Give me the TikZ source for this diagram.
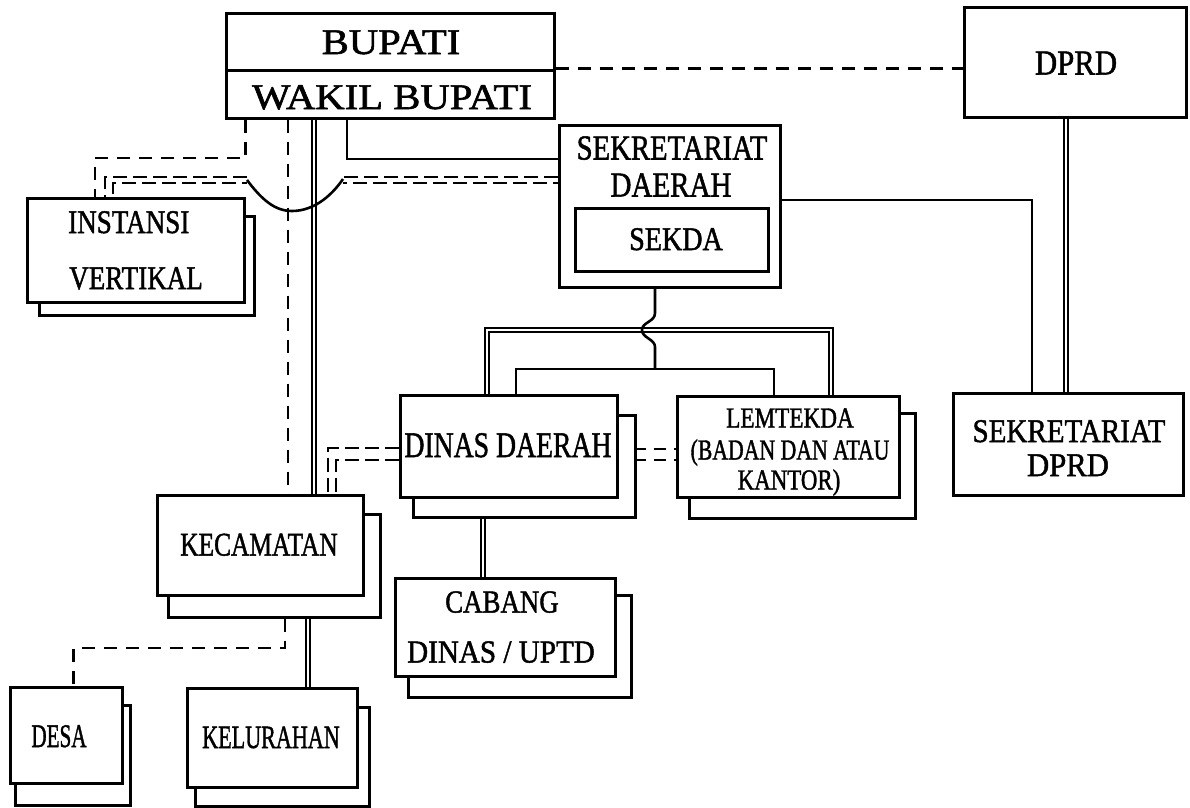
\documentclass[tikz,border=0pt]{standalone}
\usepackage{fontspec}
\setmainfont[BoldFont={Liberation Serif}, BoldFeatures={FakeBold=1.5}]{Liberation Serif}
\usepackage{graphicx}
\usetikzlibrary{backgrounds}
\newcommand{\lbl}[3]{\scalebox{#2}[1]{\fontsize{#1}{#1}\selectfont\bfseries #3}}
\begin{document}
\begin{tikzpicture}[x=1pt,y=-1pt,
  box/.style={draw, line width=3pt, fill=white, inner sep=0pt},
  shadowbox/.style={draw, line width=3pt, fill=white},
  txt/.style={inner sep=0pt, anchor=base},
  solidline/.style={line width=2.6pt},
  dashline/.style={line width=2.8pt, dash pattern=on 13pt off 9pt},
  dblline/.style={double, line width=2pt, double distance=2.2pt},
  ddline/.style={line width=2.4pt, dash pattern=on 14pt off 6pt}]
\useasboundingbox (0,0) rectangle (1190,807);

% boxes
\node[box, minimum width=328pt, minimum height=57pt] (bupati) at (390,41.5) {};
\node[box, minimum width=328pt, minimum height=48pt] (wakil) at (390,94) {};
\node[box, minimum width=222pt, minimum height=110pt] (dprd) at (1075,62) {};
\node[box, minimum width=221pt, minimum height=162pt] (sekda) at (669.5,206) {};
\node[box, minimum width=193pt, minimum height=63pt] (sekdain) at (671.5,239.5) {};
\node[box, minimum width=217pt, minimum height=104pt] (instansi) at (135.5,250) {};
\node[box, minimum width=206pt, minimum height=100pt] (kec) at (260,545) {};
\node[box, minimum width=217pt, minimum height=102pt] (dinas) at (508.5,446) {};
\node[box, minimum width=222pt, minimum height=101pt] (lem) at (788,446.5) {};
\node[box, minimum width=230pt, minimum height=102pt] (sekdprd) at (1068,444) {};
\node[box, minimum width=220pt, minimum height=98pt] (cabang) at (505,627) {};
\node[box, minimum width=112pt, minimum height=96pt] (desa) at (66,735) {};
\node[box, minimum width=170pt, minimum height=99pt] (kel) at (272,737.5) {};

% texts
\node[txt] (tBup) at (391,54) {\lbl{36}{1.13}{BUPATI}};
\node[txt] (tWak) at (392,109) {\lbl{36}{1.13}{WAKIL BUPATI}};
\node[txt] (tDprd) at (1076,74.5) {\lbl{35}{0.88}{DPRD}};
\node[txt] (tSek1) at (672,159.5) {\lbl{35}{0.82}{SEKRETARIAT}};
\node[txt] (tSek2) at (671,196.5) {\lbl{35}{0.83}{DAERAH}};
\node[txt] (tSekda) at (676,250) {\lbl{33}{0.85}{SEKDA}};
\node[txt, anchor=base west] (tIns1) at (68,233) {\lbl{33}{0.82}{INSTANSI}};
\node[txt, anchor=base west] (tIns2) at (69,289) {\lbl{33}{0.82}{VERTIKAL}};
\node[txt] (tDinas) at (508,457) {\lbl{36}{0.77}{DINAS DAERAH}};
\node[txt] (tLem1) at (790,427.5) {\lbl{29}{0.80}{LEMTEKDA}};
\node[txt] (tLem2) at (790,459.5) {\lbl{29}{0.75}{(BADAN DAN ATAU}};
\node[txt] (tLem3) at (789,489.5) {\lbl{29}{0.79}{KANTOR)}};
\node[txt] (tSd1) at (1069,442) {\lbl{33}{0.88}{SEKRETARIAT}};
\node[txt] (tSd2) at (1068,476) {\lbl{33}{0.93}{DPRD}};
\node[txt] (tKec) at (259,555.5) {\lbl{33}{0.77}{KECAMATAN}};
\node[txt] (tCab1) at (502,612.5) {\lbl{32}{0.84}{CABANG}};
\node[txt] (tCab2) at (501,662.5) {\lbl{32}{0.91}{DINAS / UPTD}};
\node[txt] (tDesa) at (59,747) {\lbl{33}{0.64}{DESA}};
\node[txt] (tKel) at (271,748) {\lbl{32.5}{0.68}{KELURAHAN}};

\begin{scope}[on background layer]
\fill[white] (0,0) rectangle (1190,807);
% Bupati -- DPRD
\draw[dashline] (wakil.north east) -- (wakil.north east -| dprd.west);
% Bupati -- Instansi (dashed)
\coordinate (c1) at (95,158);
\draw[dashline] (wakil.south -| instansi.east) |- (c1) -- (c1 |- instansi.north);
% Bupati -- Kecamatan
\draw[dashline] (wakil.south -| 288,0) -- (kec.north -| 288,0);
\draw[dblline] (wakil.south -| 314,0) -- (kec.north -| 314,0);
% Bupati -- Sekretariat Daerah
\draw[solidline] (wakil.south -| 347,0) |- (sekda.west |- 0,159);
% Sekretariat Daerah -- Instansi (double dashed with hop)
\draw[ddline] (sekda.west |- 0,177) -- (343,177);
\draw[ddline, dash phase=9pt] (sekda.west |- 0,183) -- (343,183);
\draw[ddline] (247,177) -- (105,177) -- (instansi.north -| 105,0);
\draw[ddline, dash phase=9pt] (247,183) -- (113,183) -- (instansi.north -| 113,0);
\draw[solidline] (247,180) .. controls (262,200) and (275,211) .. (292,211) .. controls (312,211) and (330,198) .. (343,179);
% Sekretariat Daerah -- Sekretariat DPRD
\draw[solidline] (sekda.east |- 0,200) -| (sekdprd.north -| 1032,0);
% DPRD -- Sekretariat DPRD
\draw[dblline] (dprd.south -| 1066,0) -- (sekdprd.north -| 1066,0);
% bracket to Dinas and Lemtekda
\draw[dblline] (dinas.north -| 487,0) -- (487,330) -| (lem.north -| 831,0);
\draw[solidline] (dinas.north -| 516,0) -- (516,369) -| (lem.north -| 774,0);
\draw[solidline] (sekda.south -| 655,0) -- (655,313) .. controls (655,322) and (642,322) .. (642,330) .. controls (642,338) and (655,339) .. (655,347) -- (655,369);
% Dinas -- Cabang
\draw[dblline] (dinas.south -| 483,0) -- (cabang.north -| 483,0);
% Dinas -- Lemtekda
\draw[line width=2.6pt, dash pattern=on 12pt off 8pt] (634,449) -- (lem.west |- 0,449);
\draw[line width=2.6pt, dash pattern=on 12pt off 8pt] (634,460) -- (lem.west |- 0,460);
% Dinas -- Kecamatan
\draw[ddline] (dinas.west |- 0,448) -- (328,448) -- (kec.north -| 328,0);
\draw[ddline] (dinas.west |- 0,460) -- (336,460) -- (kec.north -| 336,0);
% Kecamatan -- Kelurahan / Desa
\draw[dblline] (kec.south -| 308,0) -- (kel.north -| 308,0);
\draw[dashline] (kec.south -| 285,0) -- (285,648) -| (desa.north -| 73.5,0);
% shadows
\draw[shadowbox] ([shift={(14,20)}]instansi.north west) rectangle ([shift={(9,12)}]instansi.south east);
\draw[shadowbox] ([shift={(13,21)}]kec.north west) rectangle ([shift={(16,21)}]kec.south east);
\draw[shadowbox] ([shift={(15,22)}]dinas.north west) rectangle ([shift={(17,19)}]dinas.south east);
\draw[shadowbox] ([shift={(14,19)}]lem.north west) rectangle ([shift={(15,20)}]lem.south east);
\draw[shadowbox] ([shift={(15,19)}]cabang.north west) rectangle ([shift={(15,20)}]cabang.south east);
\draw[shadowbox] ([shift={(7,20)}]desa.north west) rectangle ([shift={(7,21)}]desa.south east);
\draw[shadowbox] ([shift={(10,21)}]kel.north west) rectangle ([shift={(11,18)}]kel.south east);
\end{scope}
\end{tikzpicture}
\end{document}
